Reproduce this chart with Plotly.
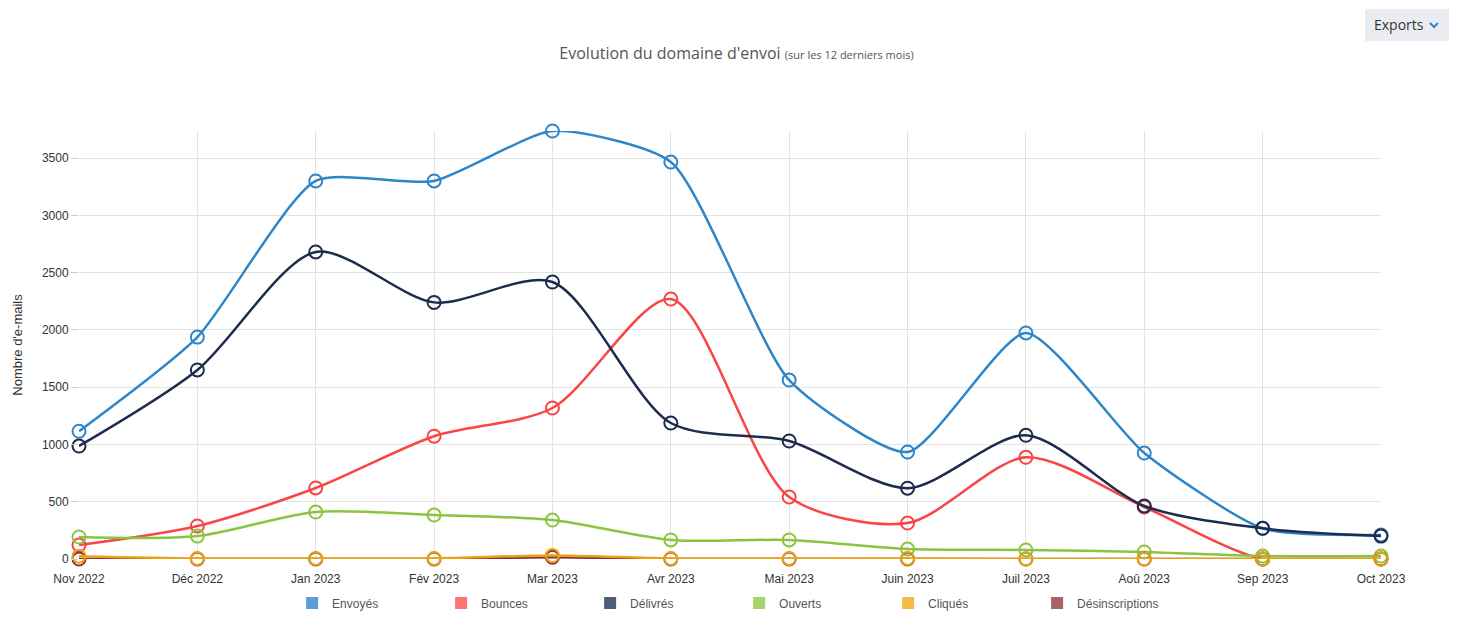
import plotly.graph_objects as go

months = ["Nov 2022", "Déc 2022", "Jan 2023", "Fév 2023", "Mar 2023", "Avr 2023",
          "Mai 2023", "Juin 2023", "Juil 2023", "Aoû 2023", "Sep 2023", "Oct 2023"]

envoyes = [1115, 1937, 3300, 3300, 3736, 3465, 1562, 934, 1973, 925, 268, 210]
bounces = [122, 288, 620, 1072, 1318, 2269, 541, 314, 888, 454, 0, 0]
delivres = [986, 1650, 2680, 2240, 2418, 1187, 1030, 618, 1080, 463, 268, 200]
ouverts = [192, 200, 410, 384, 340, 166, 166, 87, 79, 61, 26, 26]
cliques = [25, 5, 5, 5, 30, 5, 5, 5, 0, 0, 0, 0]
desinscriptions = [0, 0, 0, 0, 15, 0, 0, 0, 0, 0, 0, 0]

series_names = ["Envoyés", "Bounces", "Délivrés", "Ouverts", "Cliqués", "Désinscriptions"]
series_values = [envoyes, bounces, delivres, ouverts, cliques, desinscriptions]
line_colors = ["#2d86c9", "#f94545", "#1d2c4c", "#8bc540", "#e8a317", "#8b3232"]
legend_colors = ["#5b9fd6", "#ff7373", "#4d5d7c", "#a6d46b", "#f0be40", "#a86464"]
smooth = [0.6, 0.8, 0.8, 0.8, 0.8, 0.8]
draw_order = [0, 1, 2, 3, 5, 4]

fig = go.Figure()
for i in draw_order:
    fig.add_trace(go.Scatter(
        x=months, y=series_values[i], mode="lines+markers",
        line=dict(shape="spline", smoothing=smooth[i], width=2.5, color=line_colors[i]),
        marker=dict(symbol="circle-open", size=13, line=dict(width=2, color=line_colors[i])),
        showlegend=False, cliponaxis=False, name=series_names[i]))

for i in range(len(series_names)):
    fig.add_trace(go.Scatter(
        x=[None], y=[None], mode="markers", name=series_names[i],
        marker=dict(symbol="square", size=14, color=legend_colors[i]),
        showlegend=True))

fig.update_layout(
    width=1457, height=635,
    paper_bgcolor="white", plot_bgcolor="white",
    margin=dict(l=71, r=84, t=123, b=84, autoexpand=False),
    font=dict(family="Liberation Sans, Arial, sans-serif", size=12, color="#333"),
    title=dict(
        text="Evolution du domaine d'envoi <span style='font-size:11px'>(sur les 12 derniers mois)</span>",
        x=0.5, xanchor="center", y=0.929, yanchor="middle",
        font=dict(family="Open Sans, sans-serif", size=16, color="#555")),
    legend=dict(orientation="h", x=0.507, xanchor="center", y=-0.103, yanchor="middle",
                entrywidth=104, entrywidthmode="pixels", itemsizing="constant",
                font=dict(size=12, color="#555"), traceorder="normal"),
    xaxis=dict(type="category", range=[0, 11], showgrid=True, gridcolor="#e3e3e3",
               gridwidth=1, zeroline=False, showline=False, ticks="outside",
               ticklen=9, tickcolor="rgba(0,0,0,0)",
               tickfont=dict(size=12, color="#333")),
    yaxis=dict(range=[0, 3736], tickvals=[0, 500, 1000, 1500, 2000, 2500, 3000, 3500],
               showgrid=True, gridcolor="#e3e3e3", zeroline=False, ticks="outside",
               ticklen=7, tickcolor="#cccccc", showline=False,
               title=dict(text="Nombre d'e-mails", font=dict(size=13, color="#333"), standoff=16),
               tickfont=dict(size=12, color="#333")),
    shapes=[
        dict(type="rect", xref="paper", yref="paper", x0=1286/1302, x1=1370/1302,
             y0=518/428, y1=550/428, fillcolor="#e9edf1", line=dict(width=0), layer="above"),
        dict(type="path", xref="paper", yref="paper",
             path=f"M {1351/1302},{536/428} L {1355/1302},{532/428} L {1359/1302},{536/428}",
             line=dict(color="#2d86c9", width=2)),
    ],
    annotations=[
        dict(text="Exports", xref="paper", yref="paper", x=1320/1302, y=534/428,
             showarrow=False, xanchor="center", yanchor="middle",
             font=dict(family="Open Sans, sans-serif", size=14, color="#333")),
    ],
)

fig.write_html("out.html")
